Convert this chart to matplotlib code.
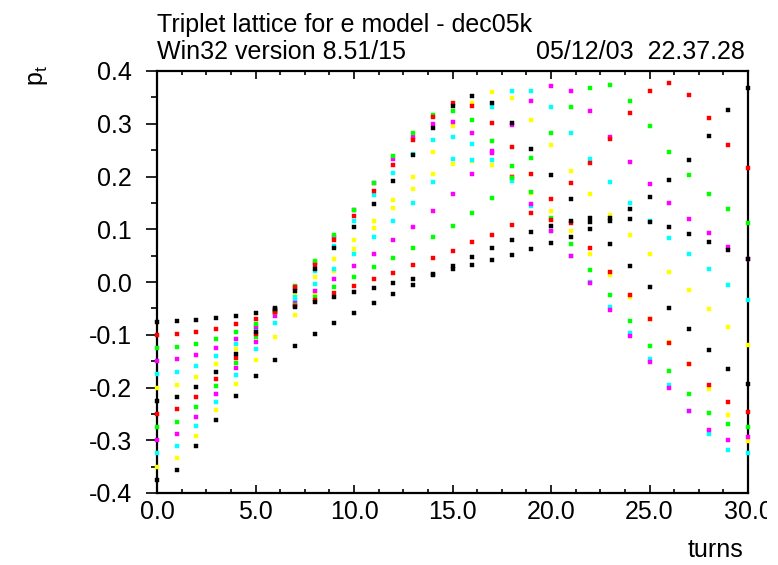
import matplotlib
matplotlib.use("Agg")
import matplotlib.pyplot as plt
from matplotlib.ticker import MultipleLocator, FixedLocator, FixedFormatter
from matplotlib.transforms import Bbox

plt.rcParams['font.family'] = ['Liberation Sans', 'DejaVu Sans']

turns = list(range(31))

# pt values per turn, for each colour
pt_black = [
    [-0.075, -0.225, -0.375], [-0.0745, -0.218, -0.356], [-0.072, -0.199, -0.3115],
    [-0.0688, -0.1699, -0.2622], [-0.0638, -0.1358, -0.2167], [-0.058, -0.095, -0.179],
    [-0.050, -0.052, -0.148], [-0.017, -0.048, -0.122], [0.025, -0.037, -0.0985],
    [0.064, -0.028, -0.078], [0.104, -0.019, -0.059], [0.147, -0.011, -0.040],
    [0.192, -0.0025, -0.023], [0.241, 0.006, -0.005], [0.291, 0.015, 0.013],
    [0.334, 0.030, 0.024], [0.353, 0.048, 0.033], [0.339, 0.065, 0.042],
    [0.301, 0.080, 0.051], [0.2515, 0.094, 0.062], [0.202, 0.106, 0.073],
    [0.157, 0.115, 0.086], [0.121, 0.114, 0.1005], [0.121, 0.116, 0.072],
    [0.138, 0.120, 0.031], [0.162, 0.114, -0.009], [0.194, 0.104, -0.050],
    [0.231, 0.091, -0.090], [0.2775, 0.0765, -0.128], [0.327, 0.061, -0.164],
    [0.367, 0.043, -0.194],
]
pt_red = [
    [-0.100, -0.250], [-0.0985, -0.2414], [-0.0947, -0.218], [-0.0891, -0.1845],
    [-0.0802, -0.144], [-0.070, -0.098], [-0.054, -0.057], [-0.010, -0.046],
    [0.032, -0.035], [0.079, -0.021], [0.125, -0.008], [0.173, 0.006],
    [0.221, 0.018], [0.270, 0.032], [0.312, 0.046], [0.340, 0.059],
    [0.334, 0.075], [0.302, 0.090], [0.255, 0.109], [0.205, 0.131],
    [0.157, 0.118], [0.188, 0.111], [0.2256, 0.064], [0.2705, 0.0196],
    [0.320, -0.025], [0.362, -0.071], [0.377, -0.116], [0.355, -0.156],
    [0.310, -0.195], [0.260, -0.227], [0.217, -0.246],
]
pt_green = [
    [-0.125, -0.275], [-0.1232, -0.2647], [-0.1169, -0.2363], [-0.1074, -0.1977],
    [-0.0947, -0.1535], [-0.079, -0.104], [-0.056, -0.056], [-0.007, -0.044],
    [0.040, -0.028], [0.090, -0.009], [0.137, 0.009], [0.187, 0.028],
    [0.238, 0.046], [0.283, 0.065], [0.317, 0.085], [0.325, 0.107],
    [0.3065, 0.1315], [0.268, 0.160], [0.220, 0.197], [0.2345, 0.171],
    [0.2825, 0.121], [0.331, 0.072], [0.368, 0.023], [0.373, -0.025],
    [0.343, -0.074], [0.295, -0.122], [0.2465, -0.168], [0.2035, -0.212],
    [0.1675, -0.248], [0.138, -0.270], [0.1125, -0.274],
]
pt_magenta = [
    [-0.150, -0.300], [-0.1466, -0.2875], [-0.1384, -0.2553], [-0.1251, -0.2123],
    [-0.1074, -0.1636], [-0.085, -0.114], [-0.058, -0.064], [-0.012, -0.039],
    [0.036, -0.017], [0.086, 0.006], [0.137, 0.030], [0.187, 0.054],
    [0.234, 0.079], [0.274, 0.105], [0.300, 0.134], [0.303, 0.166],
    [0.2825, 0.204], [0.249, 0.245], [0.297, 0.1985], [0.344, 0.148],
    [0.372, 0.097], [0.362, 0.049], [0.324, -0.0025], [0.274, -0.054],
    [0.227, -0.102], [0.186, -0.152], [0.150, -0.200], [0.120, -0.245],
    [0.092, -0.281], [0.066, -0.300], [0.044, -0.293],
]
pt_cyan = [
    [-0.175, -0.325], [-0.1706, -0.3102], [-0.1592, -0.2736], [-0.1409, -0.2268],
    [-0.1175, -0.1769], [-0.088, -0.127], [-0.055, -0.078], [-0.028, -0.034],
    [0.020, -0.0045], [0.068, 0.025], [0.116, 0.054], [0.164, 0.085],
    [0.207, 0.116], [0.243, 0.150], [0.269, 0.190], [0.275, 0.233],
    [0.262, 0.232], [0.331, 0.231], [0.363, 0.191], [0.363, 0.145],
    [0.331, 0.097], [0.282, 0.049], [0.233, 0.0007], [0.189, -0.048],
    [0.150, -0.096], [0.115, -0.146], [0.084, -0.195], [0.054, -0.245],
    [0.024, -0.289], [-0.005, -0.319], [-0.035, -0.324],
]
pt_yellow = [
    [-0.200, -0.350], [-0.1946, -0.333], [-0.1794, -0.2919], [-0.156, -0.2432],
    [-0.127, -0.194], [-0.091, -0.147], [-0.056, -0.104], [-0.022, -0.063],
    [0.010, -0.021], [0.044, 0.021], [0.080, 0.062], [0.116, 0.103],
    [0.156, 0.141], [0.199, 0.176], [0.246, 0.205], [0.296, 0.224],
    [0.339, 0.230], [0.361, 0.221], [0.348, 0.201], [0.308, 0.169],
    [0.260, 0.135], [0.211, 0.096], [0.1675, 0.054], [0.127, 0.013],
    [0.090, -0.028], [0.054, -0.071], [0.019, -0.113], [-0.016, -0.156],
    [-0.051, -0.202], [-0.086, -0.253], [-0.119, -0.301],
]

x_tick_values = [0, 5, 10, 15, 20, 25, 30]
x_tick_labels = ["0.0", "5.0", "10.0", "15.0", "20.0", "25.0", "30.0"]
y_tick_values = [-0.4, -0.3, -0.2, -0.1, 0.0, 0.1, 0.2, 0.3, 0.4]
y_tick_labels = ["-0.4", "-0.3", "-0.2", "-0.1", "0.0", "0.1", "0.2", "0.3", "0.4"]

series = [
    (pt_yellow, "#ffff00"),
    (pt_cyan, "#00ffff"),
    (pt_magenta, "#ff00ff"),
    (pt_green, "#00ff00"),
    (pt_red, "#ff0000"),
    (pt_black, "#000000"),
]

FS = 18
W, H = 778, 565
fig = plt.figure(figsize=(W / 100, H / 100), dpi=100)
L, R, T, B = 157, 748, 71, 493
ax = fig.add_axes([L / W, 1 - B / H, (R - L) / W, (B - T) / H])

for data, col in series:
    xs, ys = [], []
    for t, vals in zip(turns, data):
        for v in vals:
            xs.append(t)
            ys.append(v)
    ax.plot(xs, ys, linestyle="none", marker="s", markersize=3.0,
            markerfacecolor=col, markeredgecolor=col, markeredgewidth=0.3,
            clip_on=False, zorder=3)

ax.set_xlim(0, 30)
ax.set_ylim(-0.4, 0.4)

for s in ax.spines.values():
    s.set_linewidth(1.6)
    s.set_color("black")

ax.xaxis.set_major_locator(FixedLocator(x_tick_values))
ax.xaxis.set_major_formatter(FixedFormatter(x_tick_labels))
ax.xaxis.set_minor_locator(MultipleLocator(1.25))
ax.yaxis.set_major_locator(FixedLocator(y_tick_values))
ax.yaxis.set_major_formatter(FixedFormatter(y_tick_labels))
ax.yaxis.set_minor_locator(MultipleLocator(0.05))

ax.tick_params(axis="x", which="both", direction="in", top=True, bottom=True,
               labelsize=FS, pad=5, width=1.2)
ax.tick_params(axis="x", which="major", length=6)
ax.tick_params(axis="x", which="minor", length=3)
ax.tick_params(axis="y", which="both", direction="out", left=True, right=False,
               labelsize=FS, pad=10, width=1.2)
ax.tick_params(axis="y", which="major", length=8)
ax.tick_params(axis="y", which="minor", length=4)

# the last x label is cut at the right edge in the reference
fig.canvas.draw()
clip = Bbox.from_extents(0, 0, 767, H)
for lab in ax.get_xticklabels():
    if lab.get_text() == "30.0":
        lab.set_clip_box(clip)
        lab.set_clip_on(True)

def px(x, y):
    return x / W, 1 - y / H

fig.text(*px(157, 32), "Triplet lattice for e model - dec05k", fontsize=FS,
         ha="left", va="baseline")
fig.text(*px(157, 59), "Win32 version 8.51/15", fontsize=FS,
         ha="left", va="baseline")
fig.text(*px(745, 59), "05/12/03  22.37.28", fontsize=FS,
         ha="right", va="baseline")
fig.text(*px(743, 557), "turns", fontsize=FS, ha="right", va="baseline")
fig.text(*px(38, 76), r"p$_{\mathregular{t}}$", fontsize=FS, ha="center",
         va="center", rotation=90)

fig.savefig("out.png", dpi=100)
